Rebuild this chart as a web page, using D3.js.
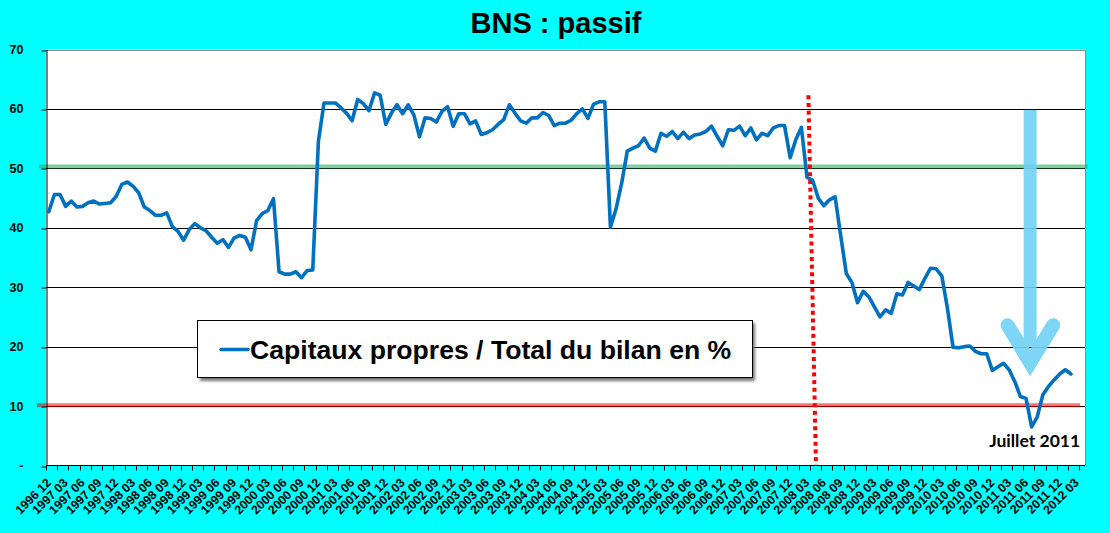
<!DOCTYPE html>
<html><head><meta charset="utf-8">
<script src="https://cdn.jsdelivr.net/npm/d3@7"></script>
<style>html,body{margin:0;padding:0;background:#00ffff;} svg{display:block}</style>
</head><body>
<svg id="c" width="1110" height="533"></svg>
<script>
// ---------- data ----------
const chartTitle = "BNS : passif";
const seriesName = "Capitaux propres / Total du bilan en %";
const annotationText = "Juillet 2011";
const firstYear = 1996, firstMonth = 12, categoryCount = 185; // 1996 12 ... 2012 04
const labelEvery = 3;       // one label every 3 months
const tickEvery = 2;        // one tick mark every 2 months
const yTicks = [0, 10, 20, 30, 40, 50, 60, 70];
const equityRatio = [
  42.7,45.6,45.6,43.6,44.5,43.5,43.6,44.2,44.5,44.0,44.1,44.2,45.3,47.3,47.7,47.0,45.9,43.5,42.9,42.1,
  42.1,42.5,40.2,39.4,37.9,39.7,40.7,40.0,39.5,38.4,37.4,38.0,36.7,38.3,38.7,38.4,36.3,41.2,42.4,42.9,
  44.9,32.6,32.2,32.2,32.6,31.6,32.8,32.9,54.5,61.0,61.0,61.0,60.2,59.3,58.0,61.6,60.9,59.7,62.7,62.3,
  57.4,59.3,60.7,59.2,60.7,59.0,55.3,58.5,58.4,57.8,59.6,60.4,57.1,59.2,59.2,57.5,58.0,55.7,56.0,56.5,
  57.4,58.2,60.7,59.3,58.0,57.6,58.5,58.5,59.4,58.9,57.2,57.6,57.6,58.1,59.2,60.0,58.4,60.8,61.2,61.2,
  40.1,43.2,47.5,52.9,53.4,53.8,55.1,53.4,52.9,55.9,55.4,56.2,55.0,56.1,55.0,55.6,55.8,56.2,57.1,55.4,
  53.8,56.5,56.4,57.1,55.5,56.8,54.8,55.9,55.5,56.8,57.2,57.2,51.8,54.8,56.9,48.5,48.0,45.0,43.7,44.7,
  45.2,38.7,32.3,30.8,27.4,29.3,28.4,26.7,25.0,26.2,25.6,28.9,28.7,30.8,30.2,29.6,31.5,33.2,33.1,31.9,
  26.5,19.9,19.8,20.0,20.1,19.2,18.8,18.8,16.0,16.6,17.2,16.1,14.1,11.6,11.3,6.5,8.2,11.9,13.3,14.4,
  15.4,16.1,15.4
];
const greenLevel = 50.3, redLevel = 10.15;
const crisisIndexTop = 135.75, crisisIndexBottom = 137.1, crisisTopValue = 62.3;
const lowCategory = "2011 07";

// ---------- categories ----------
const categories = [];
for (let k = 0; k < categoryCount; k++) {
  const m0 = (firstMonth - 1) + k;
  const yr = firstYear + Math.floor(m0 / 12);
  const mo = (m0 % 12) + 1;
  categories.push(yr + " " + String(mo).padStart(2, "0"));
}

// ---------- layout ----------
const L = 46, R = 1085, T = 49.5, B = 465.5;
const FONT = "Arial, 'Liberation Sans', sans-serif";
const svg = d3.select("#c");

const x = d3.scaleBand().domain(categories).range([L, R]).padding(0);
const xc = c => x(c) + x.bandwidth() / 2;
const xi = d3.scaleLinear().domain([0, categoryCount]).range([L, R]);
const y = d3.scaleLinear().domain([0, 70]).range([B, T]);
const crisp = v => Math.round(v) + 0.5;

// plot area
svg.append("rect").attr("x", L).attr("y", T).attr("width", R - L).attr("height", B - T)
  .attr("fill", "#fff");
svg.append("path").attr("d", `M${L},${crisp(T)}H${crisp(R)}V${B}`)
  .attr("fill", "none").attr("stroke", "#8a8a8a").attr("stroke-width", 1);

// gridlines
svg.append("g").selectAll("line").data(yTicks.filter(d => d > 0 && d < 70)).join("line")
  .attr("x1", L).attr("x2", R).attr("y1", d => crisp(y(d))).attr("y2", d => crisp(y(d)))
  .attr("stroke", "#000").attr("stroke-width", 1);

// reference lines (semi-transparent)
svg.append("line").attr("x1", 39).attr("x2", 1088).attr("y1", y(greenLevel)).attr("y2", y(greenLevel))
  .attr("stroke", "#2fae5e").attr("stroke-opacity", 0.6).attr("stroke-width", 4);
svg.append("line").attr("x1", 37).attr("x2", 1080).attr("y1", y(redLevel)).attr("y2", y(redLevel))
  .attr("stroke", "#ff0000").attr("stroke-opacity", 0.55).attr("stroke-width", 4);

// y axis
const yAxis = svg.append("g").attr("transform", `translate(${crisp(L)},0)`)
  .call(d3.axisLeft(y).tickValues(yTicks).tickSize(5).tickSizeOuter(0).tickPadding(18)
    .tickFormat(d => d === 0 ? "-" : d));
yAxis.select(".domain").attr("stroke", "#000");
yAxis.selectAll(".tick line").attr("stroke", "#000")
  .attr("y1", d => crisp(y(d)) - y(d)).attr("y2", d => crisp(y(d)) - y(d));
yAxis.selectAll("text").attr("font-family", FONT).attr("font-size", 12.5).attr("font-weight", "bold")
  .attr("fill", "#000");

// x axis
const xAxisG = svg.append("g").attr("transform", `translate(0,${B})`);
xAxisG.append("line").attr("x1", L).attr("x2", R).attr("y1", 0).attr("y2", 0)
  .attr("stroke", "#000");
xAxisG.selectAll("line.tk").data(categories.filter((c, k) => k % tickEvery === 0)).join("line")
  .attr("class", "tk")
  .attr("x1", c => crisp(x(c))).attr("x2", c => crisp(x(c))).attr("y1", 0).attr("y2", 5)
  .attr("stroke", "#000");
const labelCats = categories.filter((c, k) => k % labelEvery === 0 && k <= equityRatio.length);
xAxisG.selectAll("text").data(labelCats).join("text")
  .attr("transform", c => `translate(${xc(c) + 3},${18}) rotate(-45)`)
  .attr("text-anchor", "end")
  .attr("font-family", FONT).attr("font-size", 12.3).attr("font-weight", "bold").attr("fill", "#000")
  .text(c => c);

// crisis dotted line
svg.append("line")
  .attr("x1", xi(crisisIndexTop)).attr("y1", y(crisisTopValue))
  .attr("x2", xi(crisisIndexBottom)).attr("y2", y(0))
  .attr("stroke", "#ff0000").attr("stroke-width", 4).attr("stroke-dasharray", "4,3.7");

// data line
const line = d3.line().x((d, k) => xc(categories[k])).y(d => y(d));
svg.append("path").datum(equityRatio).attr("d", line)
  .attr("fill", "none").attr("stroke", "#0070c0").attr("stroke-width", 3.6)
  .attr("stroke-linejoin", "round").attr("stroke-linecap", "round");

// arrow
const ax = xc(lowCategory) - 1.5;
const arrow = svg.append("g").attr("opacity", 0.9);
arrow.append("line").attr("x1", ax).attr("x2", ax).attr("y1", y(59.8)).attr("y2", y(20))
  .attr("stroke", "#6fd2f6").attr("stroke-width", 13);
arrow.append("path")
  .attr("d", `M${ax - 22.5},${y(23.6)}L${ax},${y(17.3)}L${ax + 23},${y(23.6)}`)
  .attr("fill", "none").attr("stroke", "#6fd2f6").attr("stroke-width", 14)
  .attr("stroke-linecap", "round").attr("stroke-linejoin", "miter");

// annotation
svg.append("text").attr("x", xc(lowCategory) + 3).attr("y", 447)
  .attr("text-anchor", "middle").attr("font-family", "Lato, 'Open Sans', sans-serif")
  .attr("font-weight", "bold").attr("font-size", 17.5).attr("fill", "#000").text(annotationText);

// legend
const defs = svg.append("defs");
defs.append("filter").attr("id", "sh").attr("x", "-10%").attr("y", "-30%").attr("width", "130%").attr("height", "180%")
  .append("feGaussianBlur").attr("stdDeviation", 1.6);
const lg = svg.append("g");
lg.append("rect").attr("x", 200).attr("y", 323).attr("width", 555).attr("height", 58)
  .attr("fill", "#777").attr("filter", "url(#sh)");
lg.append("rect").attr("x", 197.5).attr("y", 320.5).attr("width", 555).attr("height", 57)
  .attr("fill", "#fff").attr("stroke", "#000").attr("stroke-width", 1);
lg.append("line").attr("x1", 221).attr("x2", 248).attr("y1", 349.5).attr("y2", 349.5)
  .attr("stroke", "#0070c0").attr("stroke-width", 3.6).attr("stroke-linecap", "round");
lg.append("text").attr("x", 250).attr("y", 358.5)
  .attr("font-family", FONT).attr("font-weight", "bold").attr("font-size", 26.6).attr("fill", "#000")
  .text(seriesName);

// title
svg.append("text").attr("x", 556).attr("y", 33).attr("text-anchor", "middle")
  .attr("font-family", FONT).attr("font-weight", "bold").attr("font-size", 29).attr("fill", "#000")
  .text(chartTitle);
</script>
</body></html>
